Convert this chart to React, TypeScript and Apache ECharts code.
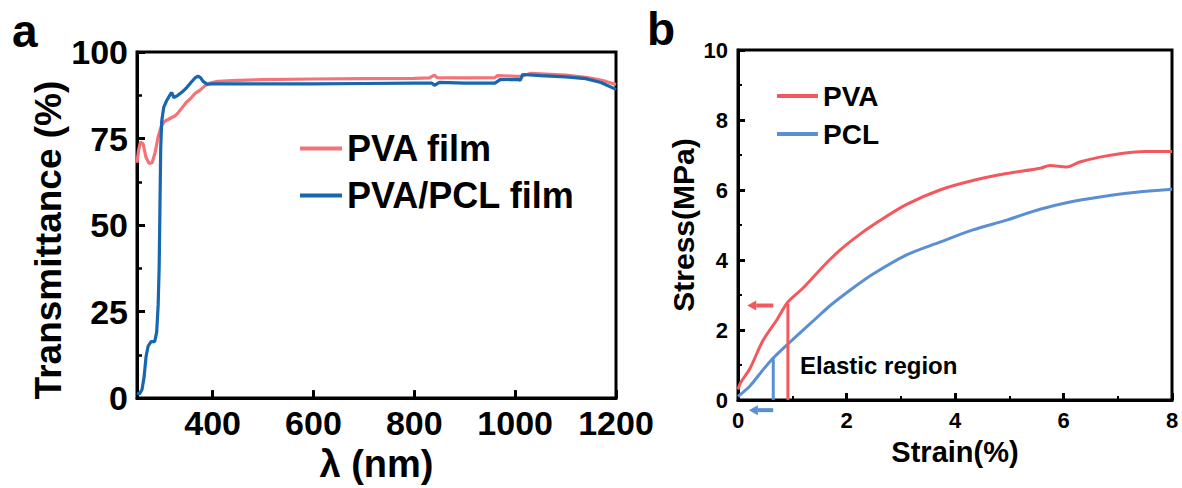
import React, { useEffect, useRef } from "react";
import * as echarts from "echarts";

// ---------- Panel a: transmittance ----------
const lambdaPVA = [250, 253, 257, 262, 268, 274, 280, 286, 292, 298, 305, 312, 318, 325, 332, 340, 348, 356, 365, 375, 385, 395, 410, 450, 500, 600, 700, 800, 830, 840, 845, 900, 960, 965, 1000, 1012, 1030, 1060, 1100, 1140, 1160, 1180, 1200];
const transPVA = [68, 71.5, 74, 73.5, 69.5, 67.8, 68, 71, 75.5, 78.5, 80, 80.5, 81, 81.5, 82.5, 84, 85.5, 86.5, 88, 89, 90.3, 91, 91.5, 91.8, 92, 92.2, 92.3, 92.4, 92.5, 93.3, 92.6, 92.5, 92.6, 93.2, 93.0, 93.0, 93.8, 93.6, 93.3, 92.7, 92.2, 91.5, 90.6];

const lambdaPCL = [250, 255, 260, 264, 268, 272, 278, 285, 289, 292, 294, 295.5, 297, 299, 303, 309, 315, 319, 323, 331, 340, 349, 357, 365, 371, 376, 381, 389, 400, 500, 600, 700, 800, 835, 840, 850, 900, 960, 970, 1005, 1010, 1015, 1050, 1100, 1140, 1170, 1200];
const transPCL = [1.5, 1.2, 2.5, 6, 12, 15, 16.3, 16.3, 19, 27, 38, 55, 72, 80, 84, 86, 87.5, 88.3, 86.8, 87.5, 88.5, 89.8, 91.2, 92.5, 93, 92.6, 91.5, 90.7, 90.8, 90.8, 90.8, 90.9, 91, 91, 90.4, 91.2, 91, 91, 92, 92.1, 91.8, 93.5, 93.2, 92.8, 92.3, 91.2, 89.2];

const lambdaTicks = [400, 600, 800, 1000, 1200];
const legendA = ["PVA film", "PVA/PCL film"];

// ---------- Panel b: stress-strain ----------
const strainPVA = [0, 0.05, 0.22, 0.46, 0.72, 0.92, 1.2, 1.5, 1.7, 1.88, 2.0, 2.25, 2.49, 3.1, 3.72, 4.33, 4.95, 5.57, 5.75, 6.06, 6.3, 6.67, 7.1, 7.5, 8];
const stressPVA = [0.3, 0.5, 0.9, 1.7, 2.3, 2.8, 3.2, 3.7, 4.02, 4.28, 4.44, 4.74, 5.0, 5.58, 6.0, 6.27, 6.47, 6.62, 6.7, 6.66, 6.8, 6.94, 7.05, 7.1, 7.1];

const strainPCL = [0, 0.22, 0.46, 0.65, 0.92, 1.45, 1.7, 2.12, 2.49, 3.1, 3.72, 4.33, 4.95, 5.57, 6.1, 6.67, 7.3, 8];
const stressPCL = [0.1, 0.4, 0.86, 1.2, 1.6, 2.35, 2.7, 3.2, 3.6, 4.14, 4.51, 4.86, 5.14, 5.45, 5.65, 5.8, 5.93, 6.02];

const legendB = ["PVA", "PCL"];
// elastic limit markers [strain, stress]
const elasticPVA = [0.92, 2.75];
const elasticPCL = [0.65, 1.2];
// arrows: [tailStrain, tailStress, headStrain, headStress]
const arrowPVA = [0.65, 2.7, 0.17, 2.7];
const arrowPCL = [0.65, -0.29, 0.2, -0.29];

const RED_A = "#f27479";
const BLUE_A = "#1766b0";
const RED_B = "#f4585f";
const BLUE_B = "#5b8fd3";
const FONT = "'Liberation Sans', Arial, sans-serif";

const zip = (xs: number[], ys: number[]) => xs.map((x, i) => [x, ys[i]]);
const plain = (v: number) => String(v);

export default function App() {
  const ref = useRef<HTMLDivElement>(null);
  useEffect(() => {
    document.body.style.margin = "0";
    const chart = echarts.init(ref.current!, null, { renderer: "svg" });
    const arrowColors = [RED_B, BLUE_B];
    const axisCommon = {
      axisLine: { show: true, lineStyle: { color: "#000", width: 3 } },
      splitLine: { show: false },
    };
    chart.setOption({
      animation: false,
      backgroundColor: "#fff",
      textStyle: { fontFamily: FONT, fontWeight: "bold", color: "#000" },
      grid: [
        { left: 137, top: 52, width: 479, height: 350, show: true, borderColor: "#000", borderWidth: 3 },
        { left: 738, top: 50, width: 434, height: 350, show: true, borderColor: "#000", borderWidth: 3 },
      ],
      legend: [
        {
          data: legendA,
          orient: "vertical",
          left: 295,
          top: 120,
          itemWidth: 42,
          itemHeight: 4,
          itemGap: 0,
          icon: "rect",
          textStyle: { fontFamily: FONT, fontWeight: "bold", fontSize: 36, color: "#000", lineHeight: 47 },
        },
        {
          data: legendB,
          orient: "vertical",
          left: 772,
          top: 72,
          itemWidth: 41,
          itemHeight: 4,
          itemGap: 0,
          icon: "rect",
          textStyle: { fontFamily: FONT, fontWeight: "bold", fontSize: 28, color: "#000", lineHeight: 38 },
        },
      ],
      xAxis: [
        {
          ...axisCommon,
          gridIndex: 0,
          type: "value",
          min: 250,
          max: 1200,
          name: "λ (nm)",
          nameLocation: "middle",
          nameGap: 43,
          nameTextStyle: { fontFamily: FONT, fontWeight: "bold", fontSize: 38, color: "#000" },
          axisTick: { show: true, inside: true, length: 8, lineStyle: { width: 3, color: "#000" }, customValues: lambdaTicks },
          axisLabel: { fontFamily: FONT, fontWeight: "bold", fontSize: 34, color: "#000", margin: 8, customValues: lambdaTicks, formatter: plain },
        },
        {
          ...axisCommon,
          gridIndex: 1,
          type: "value",
          min: 0,
          max: 8,
          interval: 2,
          name: "Strain(%)",
          nameLocation: "middle",
          nameGap: 37,
          nameTextStyle: { fontFamily: FONT, fontWeight: "bold", fontSize: 29, color: "#000" },
          axisTick: { show: true, inside: true, length: 7, lineStyle: { width: 3, color: "#000" } },
          minorTick: { show: true, splitNumber: 2, length: 4, lineStyle: { width: 2, color: "#000" } },
          axisLabel: { fontFamily: FONT, fontWeight: "bold", fontSize: 22, color: "#000", margin: 9, formatter: plain },
        },
      ],
      yAxis: [
        {
          ...axisCommon,
          gridIndex: 0,
          type: "value",
          min: 0,
          max: 100,
          interval: 25,
          name: "Transmittance (%)",
          nameLocation: "middle",
          nameGap: 58,
          nameTextStyle: { fontFamily: FONT, fontWeight: "bold", fontSize: 37, color: "#000", padding: [0, 30, 0, 0] },
          axisTick: { show: true, inside: true, length: 8, lineStyle: { width: 3, color: "#000" } },
          minorTick: { show: true, splitNumber: 2, length: 5, lineStyle: { width: 2.5, color: "#000" } },
          axisLabel: { fontFamily: FONT, fontWeight: "bold", fontSize: 34, color: "#000", margin: 9, formatter: plain },
        },
        {
          ...axisCommon,
          gridIndex: 1,
          type: "value",
          min: 0,
          max: 10,
          interval: 2,
          name: "Stress(MPa)",
          nameLocation: "middle",
          nameGap: 40,
          nameTextStyle: { fontFamily: FONT, fontWeight: "bold", fontSize: 30, color: "#000" },
          axisTick: { show: true, inside: true, length: 7, lineStyle: { width: 3, color: "#000" } },
          minorTick: { show: true, splitNumber: 2, length: 4, lineStyle: { width: 2, color: "#000" } },
          axisLabel: { fontFamily: FONT, fontWeight: "bold", fontSize: 22, color: "#000", margin: 10, formatter: plain },
        },
      ],
      series: [
        {
          name: legendA[0],
          type: "line",
          xAxisIndex: 0,
          yAxisIndex: 0,
          data: zip(lambdaPVA, transPVA),
          showSymbol: false,
          symbol: "none",
          color: RED_A,
          lineStyle: { width: 3.2, color: RED_A },
        },
        {
          name: legendA[1],
          type: "line",
          xAxisIndex: 0,
          yAxisIndex: 0,
          data: zip(lambdaPCL, transPCL),
          showSymbol: false,
          symbol: "none",
          color: BLUE_A,
          lineStyle: { width: 3.2, color: BLUE_A },
        },
        {
          name: legendB[0],
          type: "line",
          xAxisIndex: 1,
          yAxisIndex: 1,
          data: zip(strainPVA, stressPVA),
          showSymbol: false,
          symbol: "none",
          smooth: 0.3,
          color: RED_B,
          lineStyle: { width: 3, color: RED_B },
        },
        {
          name: legendB[1],
          type: "line",
          xAxisIndex: 1,
          yAxisIndex: 1,
          data: zip(strainPCL, stressPCL),
          showSymbol: false,
          symbol: "none",
          smooth: 0.3,
          color: BLUE_B,
          lineStyle: { width: 3, color: BLUE_B },
        },
        {
          type: "line",
          xAxisIndex: 1,
          yAxisIndex: 1,
          data: [[elasticPVA[0], 0], elasticPVA],
          symbol: "none",
          lineStyle: { width: 3, color: RED_B },
          z: 3,
        },
        {
          type: "line",
          xAxisIndex: 1,
          yAxisIndex: 1,
          data: [[elasticPCL[0], 0], elasticPCL],
          symbol: "none",
          lineStyle: { width: 3, color: BLUE_B },
          z: 3,
        },
        {
          type: "custom",
          xAxisIndex: 1,
          yAxisIndex: 1,
          clip: false,
          data: [arrowPVA, arrowPCL],
          renderItem: (params: any, api: any) => {
            const p1 = api.coord([api.value(0), api.value(1)]);
            const p2 = api.coord([api.value(2), api.value(3)]);
            const color = arrowColors[params.dataIndex];
            const dx = p2[0] - p1[0];
            const dy = p2[1] - p1[1];
            const len = Math.hypot(dx, dy) || 1;
            const ux = dx / len;
            const uy = dy / len;
            const head = 9;
            const hw = 5;
            const bx = p2[0] - ux * head;
            const by = p2[1] - uy * head;
            return {
              type: "group",
              children: [
                { type: "line", shape: { x1: p1[0], y1: p1[1], x2: bx, y2: by }, style: { stroke: color, lineWidth: 4 } },
                {
                  type: "polygon",
                  shape: { points: [[p2[0], p2[1]], [bx - uy * hw, by + ux * hw], [bx + uy * hw, by - ux * hw]] },
                  style: { fill: color },
                },
              ],
            };
          },
        },
      ],
      graphic: [
        { type: "text", left: 12, top: 8, style: { text: "a", font: `bold 46px ${FONT}`, fill: "#000" } },
        { type: "text", left: 647, top: 6, style: { text: "b", font: `bold 46px ${FONT}`, fill: "#000" } },
        { type: "text", left: 800, top: 353, style: { text: "Elastic region", font: `bold 24px ${FONT}`, fill: "#000" } },
      ],
    });
    return () => chart.dispose();
  }, []);
  return <div ref={ref} style={{ position: "fixed", left: 0, top: 0, width: 1182, height: 488 }} />;
}
